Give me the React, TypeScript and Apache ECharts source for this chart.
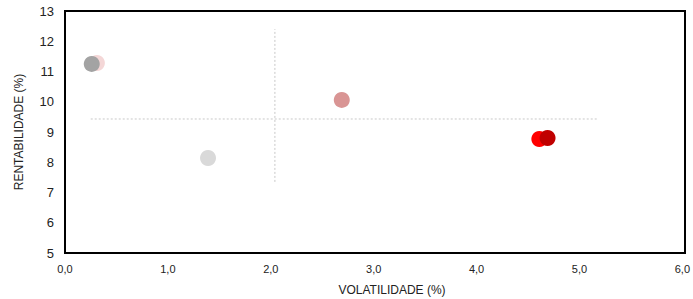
import React, { useEffect, useRef } from "react";
import * as echarts from "echarts";

const pointNames = ["A", "B", "C", "D", "E", "F"];
const volatility = [0.31, 0.26, 1.39, 2.69, 4.61, 4.69];
const returns = [11.28, 11.25, 8.14, 10.06, 8.77, 8.8];
const pointColors = ["#f4d7d7", "#a3a3a3", "#d9d9d9", "#d99594", "#ff0000", "#c00000"];

const vLineX = [2.04, 2.04];
const vLineY = [7.35, 12.4];
const hLineX = [0.25, 5.17];
const hLineY = [9.43, 9.43];

export default function App() {
  const ref = useRef<HTMLDivElement>(null);
  useEffect(() => {
    document.body.style.margin = "0";
    const chart = echarts.init(ref.current!, undefined, { renderer: "svg" });
    const font = "Liberation Sans, Arial, sans-serif";
    chart.setOption({
      animation: false,
      grid: { left: 65, right: 8, top: 11, bottom: 46 },
      xAxis: {
        type: "value",
        min: 0,
        max: 6,
        interval: 1,
        axisLine: { show: true, onZero: false, lineStyle: { color: "#000", width: 2 } },
        axisTick: { show: false },
        splitLine: { show: false },
        axisLabel: {
          color: "#222",
          fontSize: 11,
          fontFamily: font,
          margin: 10,
          formatter: (v: number) => v.toFixed(1).replace(".", ","),
        },
      },
      yAxis: {
        type: "value",
        min: 5,
        max: 13,
        interval: 1,
        name: "RENTABILIDADE (%)",
        nameLocation: "middle",
        nameGap: 40,
        nameTextStyle: { color: "#222", fontSize: 12, fontFamily: font },
        axisLine: { show: true, onZero: false, lineStyle: { color: "#000", width: 2 } },
        axisTick: { show: false },
        splitLine: { show: false },
        axisLabel: { color: "#222", fontSize: 13, fontFamily: font, margin: 11 },
      },
      graphic: [
        {
          type: "rect",
          shape: { x: 65, y: 11, width: 620, height: 242 },
          style: { fill: "none", stroke: "#000", lineWidth: 2 },
          silent: true,
          z: 10,
        },
        {
          type: "text",
          x: 392,
          y: 290,
          style: {
            text: "VOLATILIDADE (%)",
            fill: "#222",
            fontSize: 12,
            fontFamily: font,
            align: "center",
            verticalAlign: "middle",
          },
          silent: true,
        },
      ],
      series: [
        {
          type: "line",
          data: vLineX.map((x, i) => [x, vLineY[i]]),
          symbol: "none",
          lineStyle: { color: "#c8c8c8", width: 1, type: [2, 2] },
          z: 1,
        },
        {
          type: "line",
          data: hLineX.map((x, i) => [x, hLineY[i]]),
          symbol: "none",
          lineStyle: { color: "#c8c8c8", width: 1, type: [2, 2] },
          z: 1,
        },
        ...pointNames.map((n, i) => ({
          type: "scatter",
          name: n,
          data: [[volatility[i], returns[i]]],
          symbolSize: 16,
          itemStyle: { color: pointColors[i], opacity: 1 },
          z: 2 + i,
        })),
      ],
    });
    return () => chart.dispose();
  }, []);
  return <div ref={ref} style={{ width: 693, height: 299 }} />;
}
